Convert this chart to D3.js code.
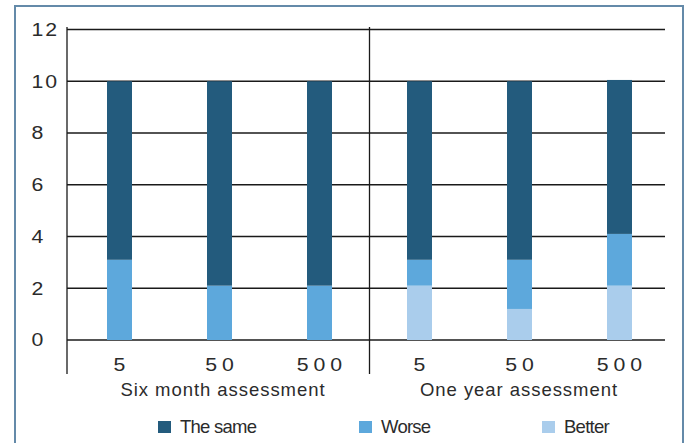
<!DOCTYPE html>
<html>
<head>
<meta charset="utf-8">
<script src="https://cdn.jsdelivr.net/npm/d3@7/dist/d3.min.js"></script>
<style>
  html, body { margin: 0; padding: 0; background: #fff; }
  svg { display: block; }
  text { font-family: "Liberation Sans", Arial, sans-serif; fill: #2b2b2b; }
</style>
</head>
<body>
<svg id="chart" width="688" height="443"></svg>
<script>
// ---- data ----
const groups = ["Six month assessment", "One year assessment"];
const categories = ["5", "50", "500"];
const seriesNames = ["The same", "Worse", "Better"];
const theSame = [6.9, 7.9, 7.9, 6.9, 6.9, 5.95];
const worse   = [3.1, 2.1, 2.1, 1.0, 1.9, 2.0];
const better  = [0, 0, 0, 2.1, 1.2, 2.1];
const yTicks = [0, 2, 4, 6, 8, 10, 12];

const colors = { "The same": "#235b7d", "Worse": "#5da8dc", "Better": "#aacdec" };

// build table
const rows = [];
groups.forEach((g, gi) => categories.forEach((c, ci) => {
  const i = gi * categories.length + ci;
  rows.push({ key: g + "|" + c, group: g, cat: c, "Better": better[i], "Worse": worse[i], "The same": theSame[i] });
}));

const svg = d3.select("#chart");

// frame
svg.append("rect").attr("x", 15).attr("y", 6).attr("width", 668).attr("height", 450)
  .attr("fill", "none").attr("stroke", "#648aa9").attr("stroke-width", 2);

const plotLeft = 67, plotRight = 665;
const x = d3.scaleBand().domain(rows.map(d => d.key)).range([69.5, 669.5])
  .paddingInner(0.75).paddingOuter(0.375);
const y = d3.scaleLinear().domain([0, 12]).range([340, 29.5]);

// gridlines
svg.append("g").selectAll("line").data(yTicks).join("line")
  .attr("x1", plotLeft).attr("x2", plotRight)
  .attr("y1", d => y(d)).attr("y2", d => y(d))
  .attr("stroke", "#1a1a1a").attr("stroke-width", 1.3);

// y tick labels (left-aligned, wide digits)
const digitStretch = 1.15;
svg.append("g").selectAll("text").data(yTicks).join("text")
  .attr("transform", d => `translate(31.5,${y(d) + 6.3}) scale(${digitStretch},1)`)
  .attr("font-size", 18.5).attr("letter-spacing", 1.6).text(d => d);

// stacked bars
const stack = d3.stack().keys(["Better", "Worse", "The same"]);
const layers = stack(rows);
svg.append("g").selectAll("g").data(layers).join("g")
  .attr("fill", d => colors[d.key])
  .selectAll("rect").data(d => d).join("rect")
  .attr("x", d => x(d.data.key))
  .attr("width", x.bandwidth())
  .attr("y", d => y(d[1]))
  .attr("height", d => y(d[0]) - y(d[1]));

// axis verticals: left axis and group divider
const dividerX = (x(rows[2].key) + x.bandwidth() + x(rows[3].key)) / 2;
svg.append("g").selectAll("line").data([plotLeft, dividerX]).join("line")
  .attr("x1", d => d).attr("x2", d => d)
  .attr("y1", 27).attr("y2", 374)
  .attr("stroke", "#1a1a1a").attr("stroke-width", 1.3);

// x tick labels
const ls = 4.3;
svg.append("g").selectAll("text").data(rows).join("text")
  .attr("transform", d => `translate(${x(d.key) + x.bandwidth() / 2 + ls * digitStretch / 2},370.5) scale(${digitStretch},1)`)
  .attr("text-anchor", "middle")
  .attr("letter-spacing", ls)
  .attr("font-size", 18.5)
  .text(d => d.cat);

// group labels
svg.append("g").selectAll("text").data(groups).join("text")
  .attr("x", (g, gi) => {
    const a = x(rows[gi * 3].key), b = x(rows[gi * 3 + 2].key) + x.bandwidth();
    return (a + b) / 2 + (gi === 0 ? 3 : -1) + 0.5;
  })
  .attr("y", 396)
  .attr("text-anchor", "middle")
  .attr("font-size", 18.5)
  .attr("letter-spacing", 0.95)
  .text(d => d);

// legend
const legendX = [158, 359, 542];
const lg = svg.append("g").selectAll("g").data(seriesNames).join("g")
  .attr("transform", (d, i) => `translate(${legendX[i]},421)`);
lg.append("rect").attr("width", 13).attr("height", 12).attr("fill", d => colors[d]);
lg.append("text").attr("x", 22).attr("y", 11.7).attr("font-size", 18.5)
  .attr("letter-spacing", -0.75).text(d => d);
</script>
</body>
</html>
